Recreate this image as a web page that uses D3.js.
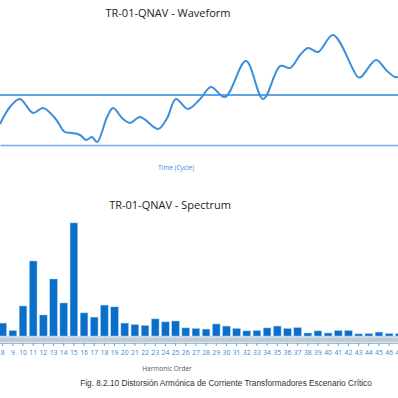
<!DOCTYPE html>
<html>
<head>
<meta charset="utf-8">
<script src="https://cdn.jsdelivr.net/npm/d3@7"></script>
<style>
html,body{margin:0;padding:0;background:#fff;}
svg{display:block;}
</style>
</head>
<body>
<svg id="chart" width="398" height="398"></svg>
<script>
// ---- Data ----
const waveTitle = "TR-01-QNAV - Waveform";
const waveXLabel = "Time (Cycle)";
const waveTime = [0,0.025,0.05,0.083,0.108,0.138,0.163,0.181,0.201,0.216,0.231,0.244,0.269,0.284,0.309,0.327,0.352,0.397,0.42,0.442,0.472,0.503,0.53,0.565,0.618,0.661,0.704,0.729,0.754,0.774,0.799,0.837,0.899,0.907,0.945,0.97,0.992,1.0];
const waveValue = [-0.58,-0.24,-0.08,-0.36,-0.26,-0.46,-0.74,-0.76,-0.8,-0.9,-0.84,-0.94,-0.44,-0.26,-0.48,-0.56,-0.44,-0.68,-0.46,-0.08,-0.28,-0.08,0.16,-0.04,0.68,-0.08,0.58,0.54,0.8,0.94,0.86,1.2,0.36,0.36,0.7,0.5,0.36,0.36];
const waveYDomain = [-1, 1.5];

const specTitle = "TR-01-QNAV - Spectrum";
const specXLabel = "Harmonic Order";
const harmonics = [8,9,10,11,12,13,14,15,16,17,18,19,20,21,22,23,24,25,26,27,28,29,30,31,32,33,34,35,36,37,38,39,40,41,42,43,44,45,46,47];
const magnitude = [4.3,1.8,10,25,7,19,11,37.7,7.7,6.3,10.3,9.7,4.3,3.8,3.5,5.7,4.7,5,2.7,2.5,2.3,4,3.3,2.5,1.7,1.8,2.7,3.3,2.5,2.8,1,1.7,1,1.8,1.8,0.7,0.8,1.3,0.8,0.8];
const specYDomain = [0, 40];

const caption = "Fig. 8.2.10 Distorsión Armónica de Corriente Transformadores Escenario Crítico";

// ---- Drawing ----
const svg = d3.select("#chart");
const titleFont = "'Open Sans', 'Noto Sans', sans-serif";

// Waveform
const wx = d3.scaleLinear().domain([0, 1]).range([0, 398]);
const wy = d3.scaleLinear().domain(waveYDomain).range([145, 20]);

svg.append("text").attr("x", 168).attr("y", 17).attr("text-anchor", "middle")
  .attr("font-family", titleFont).attr("font-size", 11).attr("fill", "#222").text(waveTitle);

svg.append("line").attr("x1", 0).attr("x2", 398).attr("y1", wy(0)).attr("y2", wy(0))
  .attr("stroke", "#2b87d8").attr("stroke-width", 1.5);

const wAxis = svg.append("g").attr("transform", `translate(0,${wy(waveYDomain[0])})`)
  .call(d3.axisBottom(wx).tickValues([]).tickSizeOuter(0));
wAxis.select(".domain").attr("stroke", "#6fb0ea").attr("stroke-width", 1.5);

const pts = waveTime.map((t, i) => [t, waveValue[i]]);
svg.append("path").datum(pts)
  .attr("fill", "none").attr("stroke", "#3d8fdb").attr("stroke-width", 2)
  .attr("d", d3.line().x(d => wx(d[0])).y(d => wy(d[1])).curve(d3.curveCatmullRom.alpha(0.5)));

svg.append("text").attr("x", 176).attr("y", 170).attr("text-anchor", "middle")
  .attr("font-family", titleFont).attr("font-size", 6.5).attr("fill", "#3a8ad6").text(waveXLabel);

// Spectrum
const sx = d3.scaleBand().domain(harmonics).range([-2.4, -2.4 + harmonics.length * 10.17]).paddingInner(0.25).paddingOuter(0.125);
const sy = d3.scaleLinear().domain(specYDomain).range([336, 216]);

svg.append("text").attr("x", 170).attr("y", 209).attr("text-anchor", "middle")
  .attr("font-family", titleFont).attr("font-size", 11).attr("fill", "#222").text(specTitle);

svg.append("g").selectAll("rect").data(harmonics).join("rect")
  .attr("x", d => sx(d)).attr("width", sx.bandwidth())
  .attr("y", (d, i) => sy(magnitude[i])).attr("height", (d, i) => sy(0) - sy(magnitude[i]))
  .attr("fill", "#0b6fc9").attr("stroke", "#9ccbf0").attr("stroke-width", 0.5);

// baseline + scroll band
svg.append("line").attr("x1", 0).attr("x2", 398).attr("y1", 337).attr("y2", 337)
  .attr("stroke", "#8cc2ee").attr("stroke-width", 1);
svg.append("rect").attr("x", 0).attr("y", 338).attr("width", 398).attr("height", 4.5).attr("fill", "#c9c9c9");

const sAxis = svg.append("g").attr("transform", "translate(0,343)")
  .call(d3.axisBottom(sx).tickSize(3).tickSizeOuter(0).tickPadding(4));
sAxis.select(".domain").attr("stroke", "#8cc2ee").attr("stroke-width", 1);
sAxis.selectAll(".tick line").attr("stroke", "#5aa3e3");
sAxis.selectAll(".tick text").attr("font-family", titleFont).attr("font-size", 6.8).attr("fill", "#3589d6");

svg.append("text").attr("x", 167).attr("y", 371).attr("text-anchor", "middle")
  .attr("font-family", titleFont).attr("font-size", 6.5).attr("fill", "#555").text(specXLabel);

// Caption: size the font so the line spans the same width as in the figure
const cap = svg.append("text").attr("x", 226).attr("y", 386).attr("text-anchor", "middle")
  .attr("font-family", "'Liberation Sans Narrow', 'Arial Narrow', 'Liberation Sans', sans-serif")
  .attr("font-size", 10).attr("fill", "#333").text(caption);
const w = cap.node().getComputedTextLength();
cap.attr("font-size", Math.min(11, 10 * 292 / w));
</script>
</body>
</html>
